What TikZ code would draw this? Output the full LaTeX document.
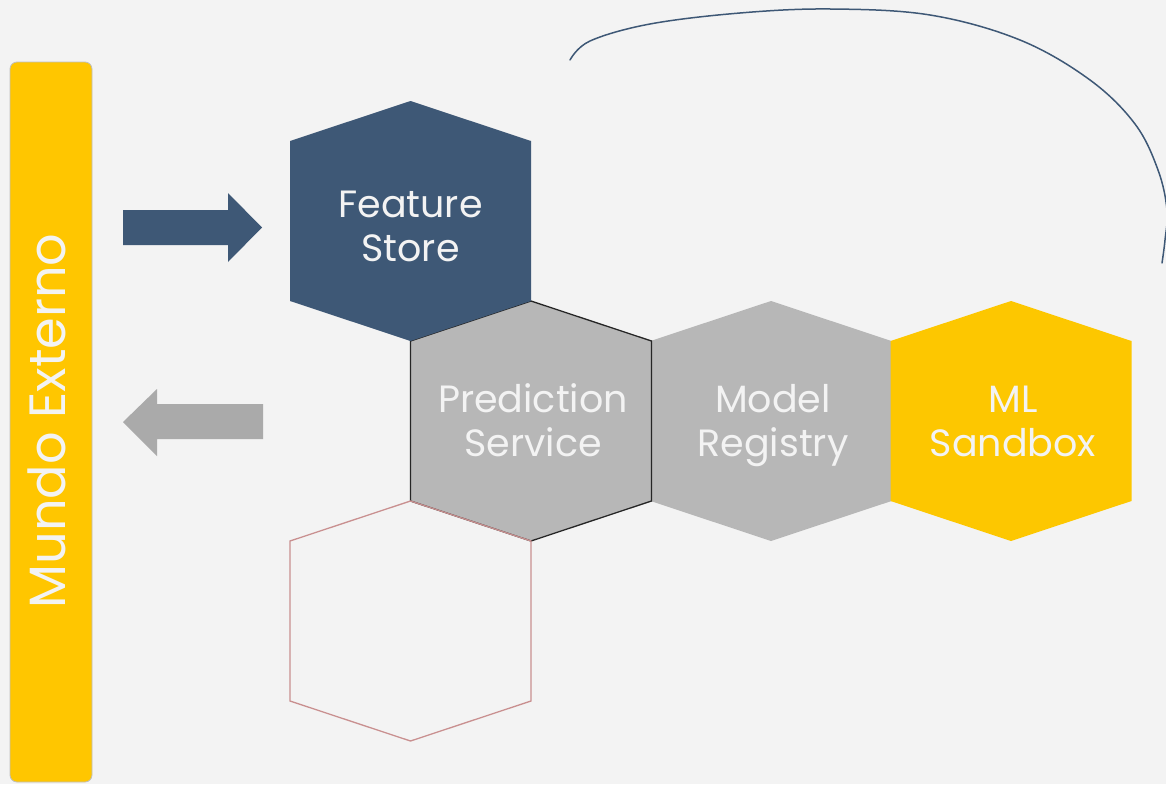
\documentclass[tikz,border=0pt]{standalone}
\usepackage{fontspec}
\setmainfont{Poppins}
\definecolor{bgc}{HTML}{F3F3F3}
\definecolor{navy}{HTML}{3E5876}
\definecolor{hexgray}{HTML}{B7B7B7}
\definecolor{gold}{HTML}{FDC700}
\definecolor{barYellow}{HTML}{FFC600}
\definecolor{pinkline}{HTML}{C99090}
\definecolor{arrowgray}{HTML}{AAAAAA}
\definecolor{softwhite}{HTML}{F3F3F3}
\tikzset{
  hexlabel/.style={text=softwhite, align=center, font=\fontsize{38}{44}\selectfont},
}
\newcommand\hexat[1]{[shift={#1}] (0,-120) -- (120.5,-80) -- (120.5,80) -- (0,120) -- (-120.5,80) -- (-120.5,-80) -- cycle}
\begin{document}
\begin{tikzpicture}[x=1pt,y=-1pt]
\fill[bgc] (0,0) rectangle (1166,784);
\useasboundingbox (0,0) rectangle (1166,784);
% left bar
\draw[fill=barYellow, draw=black!25, line width=0.8pt, rounded corners=7pt] (10,62) rectangle (92,782);
\node[rotate=90, text=softwhite, font=\fontsize{51}{55}\selectfont] (mundo) at (47,421) {Mundo Externo};
% hexagons
\fill[hexgray] \hexat{(771,421)};
\fill[gold] \hexat{(1011,421)};
\draw[fill=hexgray, draw=black!85, line width=1.3pt] \hexat{(531,421)};
\draw[pinkline, line width=1.3pt] \hexat{(410.5,621)};
\fill[navy] \hexat{(410.5,221)};
\node[hexlabel] (fs) at (410.5,231) {Feature\strut\\Store\strut};
\node[hexlabel] (ps) at (533,426) {Prediction\strut\\Service\strut};
\node[hexlabel] (mr) at (773,426) {Model\strut\\Registry\strut};
\node[hexlabel] (ml) at (1013,426) {ML\strut\\Sandbox\strut};
% block arrows
\fill[navy] (123,210) -- (228,210) -- (228,193) -- (262,227.5) -- (228,262) -- (228,245) -- (123,245) -- cycle;
\fill[arrowgray] (263,404) -- (157,404) -- (157,389) -- (123,422) -- (157,456) -- (157,439) -- (263,439) -- cycle;
% curve
\begin{scope}
\clip (0,0) rectangle (1166,784);
\draw[navy, line width=1.5pt, line cap=round] plot[smooth, tension=0.6] coordinates {(570,60) (590,41) (650,24) (740,13) (830,9) (930,15) (1020,40) (1090,80) (1135,124) (1158,170) (1167,210) (1165,240) (1162,263)};
\end{scope}
\end{tikzpicture}
\end{document}
